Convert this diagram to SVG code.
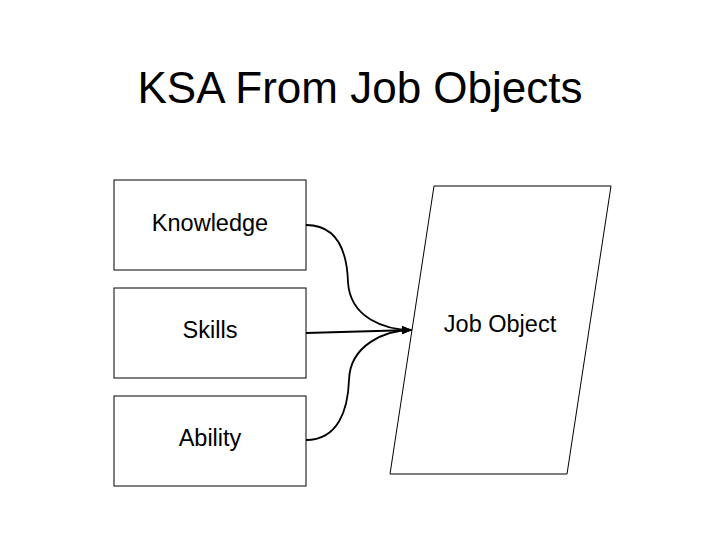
<svg xmlns="http://www.w3.org/2000/svg" width="720" height="540" viewBox="0 0 720 540">
<style>
text{font-family:"Liberation Sans",Arial,sans-serif;fill:#000}
.box{fill:#fff;stroke:#000;stroke-width:1}
.lbl{font-size:23.5px;text-anchor:middle}
.conn{fill:none;stroke:#000;stroke-width:1.8}
</style>
<defs>
<marker id="arr" viewBox="0 0 10 10" refX="10" refY="5" markerWidth="5.5" markerHeight="5.5" orient="auto" markerUnits="strokeWidth">
<path d="M0,1 L10,5 L0,9 z" fill="#000"/>
</marker>
</defs>
<rect width="720" height="540" fill="#fff"/>
<text x="360" y="103" font-size="44" text-anchor="middle">KSA From Job Objects</text>
<g id="knowledge"><rect class="box" x="114" y="180" width="192" height="90"/><text class="lbl" x="210" y="231">Knowledge</text></g>
<g id="skills"><rect class="box" x="114" y="288" width="192" height="90"/><text class="lbl" x="210" y="338">Skills</text></g>
<g id="ability"><rect class="box" x="114" y="396" width="192" height="90"/><text class="lbl" x="210" y="446">Ability</text></g>
<g id="jobobject"><polygon class="box" points="434,186 611,186 567,474 390,474"/><text class="lbl" x="500" y="332">Job Object</text></g>
<g id="connectors">
<path class="conn" d="M306,225 C338,225 347,252 348,282 C350,318 385,330 412,330" marker-end="url(#arr)"/>
<path class="conn" d="M306,333 L412,330" marker-end="url(#arr)"/>
<path class="conn" d="M306,440 C338,440 348,410 349,380 C350,345 385,330 412,330" marker-end="url(#arr)"/>
</g>
</svg>
